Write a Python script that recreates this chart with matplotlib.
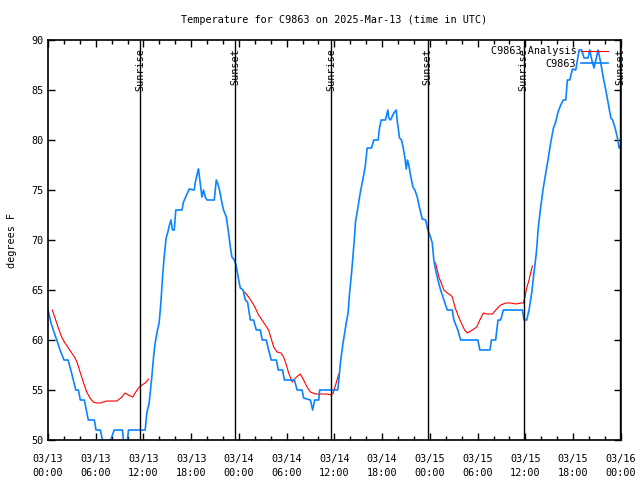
import numpy as np
import matplotlib
matplotlib.use("Agg")
import matplotlib.pyplot as plt
import matplotlib.dates as mdates

# time in hours since 2025-03-13 00:00 UTC
obs_hours = [0.0, 0.38, 0.67, 1.10, 1.51, 2.01, 2.52, 2.86, 3.18, 3.49, 3.81, 4.07, 4.57, 4.82,
             5.07, 5.83, 6.04, 6.58, 6.84, 7.05, 7.68, 7.89, 8.31, 9.35, 9.48, 9.69, 9.98, 10.11,
             12.21, 12.42, 12.71, 13.05, 13.26, 13.47, 13.76, 13.97, 14.19, 14.31, 14.44, 14.60,
             14.73, 14.85, 15.07, 15.27, 15.45, 15.65, 15.86, 16.07, 16.83, 17.03, 17.25, 17.75,
             18.38, 18.50, 18.79, 18.92, 19.13, 19.35, 19.55, 19.76, 19.98, 20.90, 21.15, 21.31,
             21.53, 21.87, 22.07, 22.41, 22.70, 22.91, 23.12, 23.41, 23.63, 23.96, 24.17, 24.51,
             24.80, 25.09, 25.43, 25.84, 26.18, 26.69, 26.94, 27.44, 27.73, 28.07, 28.70, 28.95,
             29.49, 29.71, 30.97, 31.31, 31.94, 32.14, 32.98, 33.27, 33.52, 34.03, 34.15, 36.42,
             36.54, 36.76, 37.05, 37.39, 37.73, 37.89, 38.14, 38.31, 38.52, 38.65, 38.86, 39.06,
             39.27, 39.49, 39.69, 39.90, 40.12, 40.66, 40.95, 41.50, 41.67, 41.88, 42.42, 42.71,
             42.84, 43.05, 43.47, 43.77, 43.89, 44.18, 44.44, 44.65, 44.85, 45.03, 45.19, 45.35,
             45.57, 45.86, 46.11, 46.41, 46.61, 46.83, 47.04, 47.46, 47.75, 48.09, 48.30, 48.50,
             48.72, 49.01, 49.35, 49.76, 50.19, 50.82, 51.02, 51.52, 51.86, 54.04, 54.29, 55.55,
             55.73, 56.27, 56.56, 56.90, 57.24, 59.63, 59.83, 60.17, 60.46, 60.80, 61.09, 61.39,
             61.64, 61.93, 62.22, 62.56, 62.85, 63.19, 63.53, 63.82, 64.11, 64.45, 64.79, 65.08,
             65.29, 65.58, 65.92, 66.34, 66.76, 67.06, 67.38, 67.89, 68.10, 68.35, 68.64, 68.86,
             69.15, 69.49, 69.78, 70.12, 70.41, 70.75, 70.96, 71.29, 71.59, 71.79, 72.00]
obs_temp = [63, 61.7, 61, 60, 59, 58, 58, 57, 56, 55, 55, 54, 54, 53,
            52, 52, 51, 51, 50, 49, 49, 50, 51, 51, 50, 49, 50, 51,
            51, 52.7, 53.7, 56.3, 58.3, 59.7, 61, 61.7, 63.7, 65.3, 66.7,
            68.3, 69.3, 70.2, 70.8, 71.5, 72, 71, 71, 73, 73, 73.8, 74.2,
            75.1, 75, 75.7, 76.7, 77.1, 75.7, 74.3, 75, 74.3, 74, 74, 76,
            75.7, 75.1, 73.7, 73, 72.3, 70.7, 69.3, 68.3, 68, 67.5, 66, 65.2,
            65, 64, 63.8, 62, 62, 61, 61, 60, 60, 59, 58, 58,
            57, 57, 56, 56, 55, 55, 54.2, 54, 53, 54, 54, 55,
            55, 55.8, 57.8, 59.5, 61.2, 62.8, 64.5, 66.5, 68.2, 70.2, 71.8, 72.8,
            73.8, 74.8, 75.7, 76.5, 77.5, 79.2, 79.2, 80, 80, 81.2, 82, 82,
            83, 82.2, 82, 82.7, 83, 82, 80.2, 80, 79.2, 78.3, 77.1, 78,
            77.5, 76.5, 75.3, 75, 74.3, 73.5, 72.8, 72.1, 72, 71, 70.3, 69.7,
            68, 67, 66, 65, 64, 63, 63, 62, 61, 60, 60, 59,
            59, 60, 60, 62, 62, 63, 63, 62, 62, 63, 64.7, 66.7,
            68.7, 71.3, 73.3, 75, 76.7, 78, 79.7, 81.2, 81.8, 82.8, 83.5, 84,
            84, 86, 86, 87.1, 87, 89, 89, 88.2, 88.2, 89, 88, 87.2,
            88, 89, 87.7, 86.3, 85, 83.7, 82.2, 82, 81.2, 80.2, 79.2, 79.5]

ana1_hours = [0.54, 0.88, 1.30, 1.72, 2.14, 2.56, 2.98, 3.40, 3.69, 4.03, 4.44, 4.87, 5.29, 5.70,
              6.13, 6.55, 6.96, 7.39, 8.65, 9.28, 9.69, 10.11, 10.66, 10.95, 11.37, 11.80, 12.21, 12.63]
ana1_temp = [63, 62.2, 61.2, 60.3, 59.7, 59.2, 58.7, 58.2, 57.7, 56.8, 55.8, 54.8, 54.2, 53.8,
             53.7, 53.7, 53.8, 53.9, 53.9, 54.3, 54.7, 54.5, 54.3, 54.7, 55.2, 55.5, 55.7, 56.1]
ana2_hours = [24.71, 25.21, 25.64, 26.06, 26.47, 26.90, 27.32, 27.73, 28.03, 28.36, 28.79, 29.29,
              29.62, 29.96, 30.25, 30.68, 31.22, 31.72, 32.14, 32.57, 32.98, 33.61, 34.24, 35.08,
              35.62, 35.84, 36.04, 36.34, 36.54]
ana2_temp = [64.8, 64.3, 63.8, 63.2, 62.5, 62, 61.5, 61, 60.2, 59.3, 58.8, 58.7,
             58.3, 57.5, 56.7, 55.8, 56.3, 56.6, 56, 55.3, 54.8, 54.6, 54.6, 54.6,
             54.5, 54.7, 55.2, 56, 56.6]
ana3_hours = [48.72, 48.93, 49.13, 49.43, 49.76, 50.19, 50.60, 50.82, 51.15, 51.52, 51.95, 52.37,
              52.71, 53.12, 53.54, 53.88, 54.29, 54.72, 55.22, 55.85, 56.40, 56.90, 57.53, 58.16,
              58.79, 59.42, 59.76, 59.92, 60.17, 60.46, 60.67, 60.89]
ana3_temp = [67.7, 67, 66.3, 65.7, 65, 64.7, 64.5, 64.3, 63.3, 62.5, 61.7, 61,
             60.7, 60.9, 61.1, 61.3, 62, 62.7, 62.6, 62.6, 63.1, 63.5, 63.7, 63.7,
             63.6, 63.7, 63.7, 64.2, 65.2, 66, 66.7, 67.4]

sun_hours = [11.58, 23.54, 35.62, 47.71, 59.80, 71.9]
sun_labels = ["Sunrise", "Sunset", "Sunrise", "Sunset", "Sunrise", "Sunset"]

start = np.datetime64("2025-03-13T00:00")


def to_time(hours):
    return start + (np.array(hours) * 60).round().astype("timedelta64[m]")


plt.rcParams["font.family"] = "DejaVu Sans Mono"
plt.rcParams["font.size"] = 7.3

fig = plt.figure(figsize=(6.4, 4.8), dpi=100)
ax = fig.add_axes([0.075, 0.0833, 0.895, 0.8334])

# analysis, one piece per night
ax.plot(to_time(ana1_hours), ana1_temp, color="red", lw=0.8, label="C9863 Analysis")
ax.plot(to_time(ana2_hours), ana2_temp, color="red", lw=0.8)
ax.plot(to_time(ana3_hours), ana3_temp, color="red", lw=0.8)
ax.plot(to_time(obs_hours), obs_temp, color="#0a84ff", lw=1.2, label="C9863")

for h, lab in zip(sun_hours, sun_labels):
    t = to_time([h])[0]
    ax.axvline(t, color="black", lw=1.0)
    ax.text(t, 89.2, lab, rotation=90, ha="center", va="top", fontsize=7.3)

ax.set_xlim(to_time([0])[0], to_time([72])[0])
ax.set_ylim(50, 90)
ax.set_yticks(range(50, 91, 5))
ax.xaxis.set_major_locator(mdates.HourLocator(byhour=[0, 6, 12, 18]))
ax.xaxis.set_minor_locator(mdates.HourLocator(byhour=range(0, 24, 2)))
ax.xaxis.set_major_formatter(mdates.DateFormatter("%m/%d\n%H:%M"))
ax.tick_params(direction="in", which="both", top=True, right=True, width=1)
ax.tick_params(which="major", length=5)
ax.tick_params(which="minor", length=3)
ax.tick_params(axis="x", pad=10)
for lbl in ax.get_xticklabels():
    lbl.set_linespacing(1.45)
for s in ax.spines.values():
    s.set_linewidth(1.2)

ax.set_ylabel("degrees F", labelpad=10)
ax.set_title("Temperature for C9863 on 2025-Mar-13 (time in UTC)", pad=12, fontsize=7.3)

handles, labels = ax.get_legend_handles_labels()
ax.legend(handles, labels, loc="upper right", bbox_to_anchor=(0.988, 1.0), frameon=False,
          markerfirst=False, handlelength=2.6, handletextpad=0.5, labelspacing=0.25,
          borderaxespad=0.2, fontsize=7.3)

fig.savefig("out.png", dpi=100)
